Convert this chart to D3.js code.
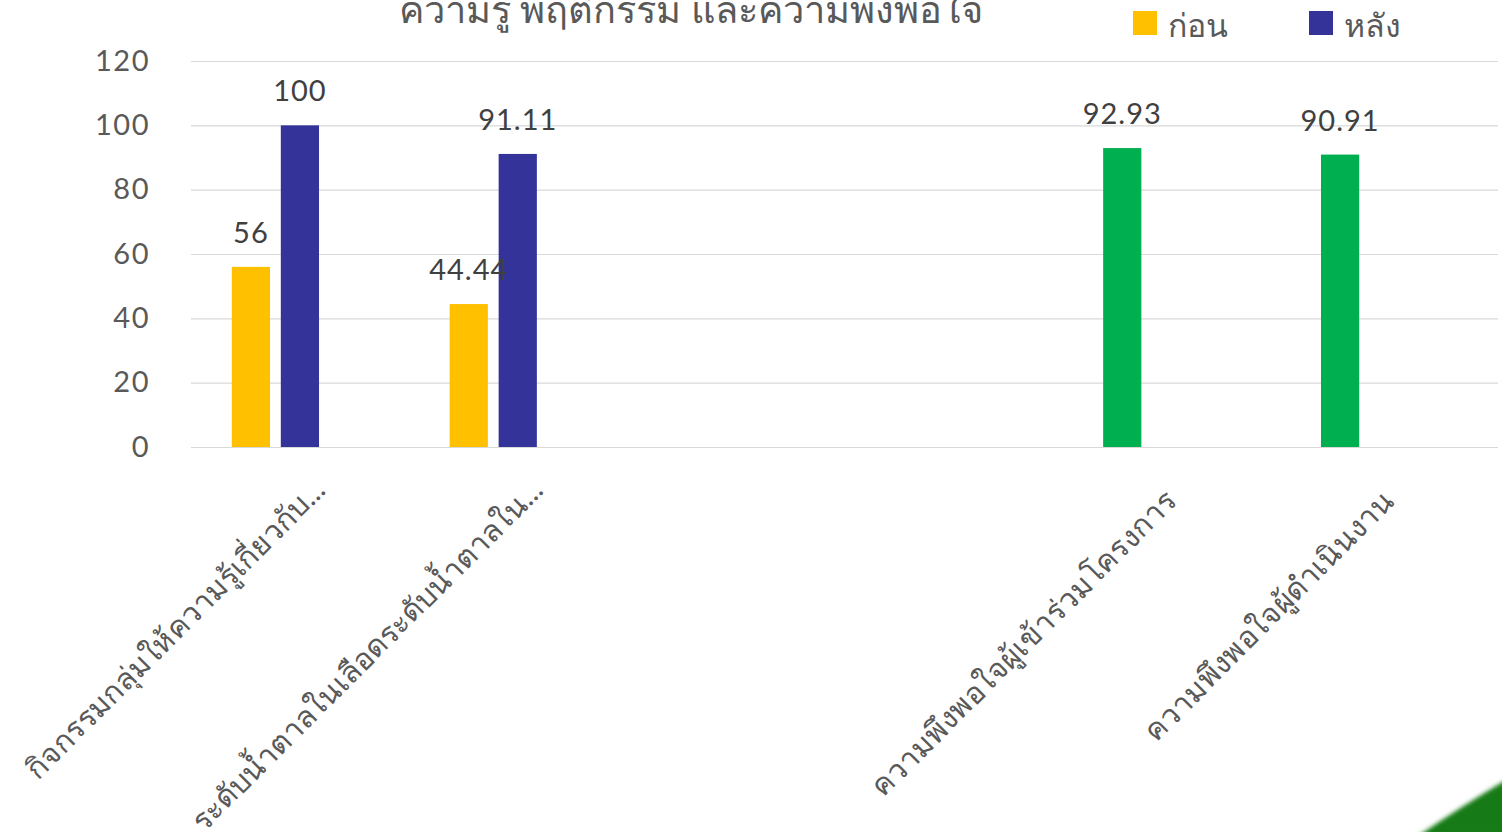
<!DOCTYPE html>
<head>
  <meta charset="utf-8">
  <title>ความรู้ พฤติกรรม และความพึงพอใจ</title>
  <script src="https://cdn.jsdelivr.net/npm/d3@7"></script>
  <style>
    body { margin: 0; background: #fff; }
    text { font-family: Lato, "Noto Sans", "DejaVu Sans", sans-serif; }
  </style>
</head>

<body>
  <script>
    var WIDTH = 1502;
    var HEIGHT = 832;

    // data
    var title = "ความรู้ พฤติกรรม และความพึงพอใจ";
    var categories = [
      "กิจกรรมกลุ่มให้ความรู้เกี่ยวกับ...",
      "ระดับน้ำตาลในเลือดระดับน้ำตาลใน...",
      "",
      "",
      "ความพึงพอใจผู้เข้าร่วมโครงการ",
      "ความพึงพอใจผู้ดำเนินงาน"
    ];
    var seriesNames = ["ก่อน", "หลัง"];
    var before = [56, 44.44, null, null, null, null];
    var after = [100, 91.11, null, null, null, null];
    var satisfaction = [null, null, null, null, 92.93, 90.91];
    var yTicks = [0, 20, 40, 60, 80, 100, 120];

    var colors = { before: "#FFC000", after: "#333399", satisfaction: "#00B050" };

    var svg = d3.select("body").append("svg")
                .attr("width", WIDTH)
                .attr("height", HEIGHT);

    var defs = svg.append("defs");
    defs.append("filter")
        .attr("id", "soft")
        .append("feGaussianBlur")
        .attr("stdDeviation", 2);

    var plot = { left: 191, right: 1498, top: 61, bottom: 447 };

    var x = d3.scaleBand()
              .domain(d3.range(categories.length))
              .range([plot.left, plot.right]);

    // three slots per category, Excel style; satisfaction shares the first slot
    var slot = d3.scaleBand()
                 .domain([0, 1, 2])
                 .range([0, x.bandwidth()])
                 .paddingInner(0.22)
                 .paddingOuter(0.833);

    var y = d3.scaleLinear()
              .domain([0, 120])
              .range([plot.bottom, plot.top]);

    // gridlines
    svg.append("g")
       .selectAll("line")
       .data(yTicks)
       .enter().append("line")
       .attr("x1", plot.left)
       .attr("x2", plot.right)
       .attr("y1", function(d){ return y(d) + 0.5; })
       .attr("y2", function(d){ return y(d) + 0.5; })
       .attr("stroke", "#d9d9d9")
       .attr("stroke-width", 1.2);

    // y axis labels
    var yAxis = d3.axisLeft(y).tickValues(yTicks).tickSize(0).tickPadding(0);
    var gy = svg.append("g")
                .attr("transform", "translate(150,0)")
                .call(yAxis);
    gy.select(".domain").remove();
    gy.selectAll("text")
      .attr("font-size", 29)
      .attr("letter-spacing", 1.5)
      .attr("fill", "#595959")
      .attr("font-family", "Lato, sans-serif");

    // bars
    var bars = [];
    categories.forEach(function(c, i){
      if (before[i] != null) bars.push({ i: i, slot: 0, v: before[i], color: colors.before });
      if (after[i] != null) bars.push({ i: i, slot: 1, v: after[i], color: colors.after });
      if (satisfaction[i] != null) bars.push({ i: i, slot: 0, v: satisfaction[i], color: colors.satisfaction });
    });

    svg.append("g")
       .selectAll("rect")
       .data(bars)
       .enter().append("rect")
       .attr("x", function(d){ return x(d.i) + slot(d.slot); })
       .attr("y", function(d){ return y(d.v); })
       .attr("width", slot.bandwidth())
       .attr("height", function(d){ return y(0) - y(d.v); })
       .attr("fill", function(d){ return d.color; });

    // value labels
    svg.append("g")
       .selectAll("text")
       .data(bars)
       .enter().append("text")
       .attr("x", function(d){ return x(d.i) + slot(d.slot) + slot.bandwidth() / 2; })
       .attr("y", function(d){ return y(d.v) - 24; })
       .attr("text-anchor", "middle")
       .attr("font-size", 29)
       .attr("letter-spacing", 1)
       .attr("fill", "#404040")
       .attr("font-family", "Lato, sans-serif")
       .text(function(d){ return d.v; });

    // category labels, rotated; truncated ones sit a bit further along
    svg.append("g")
       .selectAll("text")
       .data(categories)
       .enter().append("text")
       .attr("transform", function(d, i){
         var cut = /\.\.\.$/.test(d);
         var cx = x(i) + x.bandwidth() / 2 + (cut ? 27 : 7);
         var cy = cut ? 492 : 503;
         return "translate(" + cx + "," + cy + ") rotate(-45)";
       })
       .attr("text-anchor", "end")
       .attr("font-size", 30)
       .attr("fill", "#595959")
       .text(function(d){ return d; });

    // title (cut by the top edge)
    svg.append("text")
       .attr("x", 691)
       .attr("y", 23)
       .attr("text-anchor", "middle")
       .attr("font-size", 38)
       .attr("fill", "#595959")
       .text(title);

    // legend
    var legend = svg.append("g")
                    .selectAll("g")
                    .data(seriesNames)
                    .enter().append("g")
                    .attr("transform", function(d, i){ return "translate(" + (1133 + i * 176) + ",11)"; });
    legend.append("rect")
          .attr("width", 24)
          .attr("height", 24)
          .attr("fill", function(d, i){ return i === 0 ? colors.before : colors.after; });
    legend.append("text")
          .attr("x", 35)
          .attr("y", 26)
          .attr("font-size", 32)
          .attr("fill", "#595959")
          .text(function(d){ return d; });

    // slide decoration in the corner
    svg.append("path")
       .attr("d", "M1418,836 Q1462,806 1506,780 L1506,836 Z")
       .attr("fill", "#137a13")
       .attr("filter", "url(#soft)");
  </script>
</body>
